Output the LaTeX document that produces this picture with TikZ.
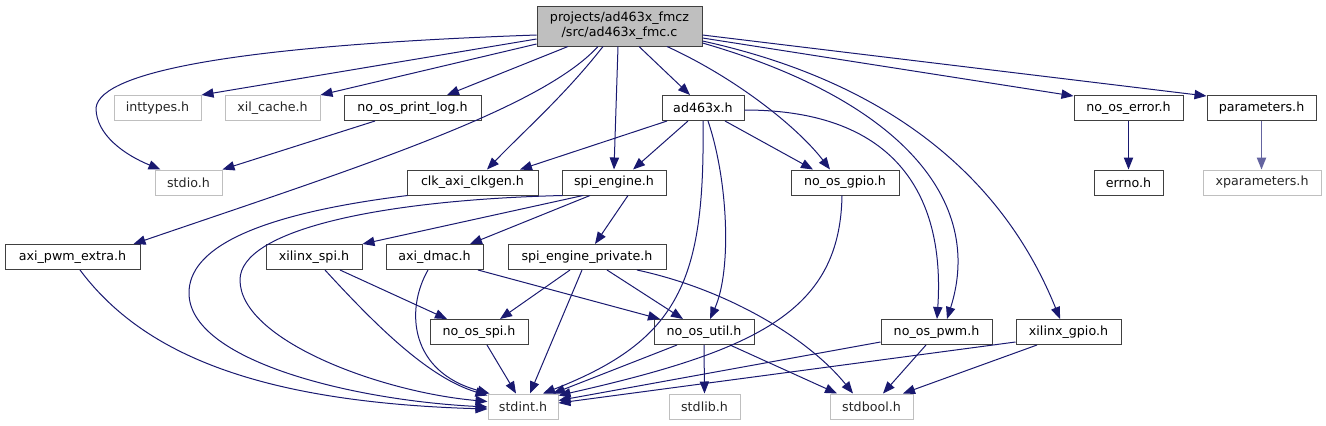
\documentclass[tikz,border=0pt]{standalone}
\usepackage{fontspec}
\setmainfont{DejaVu Sans}
\usetikzlibrary{arrows.meta,calc}
\definecolor{edge}{HTML}{191970}
\definecolor{edgelight}{HTML}{6464A0}
\definecolor{gbord}{HTML}{BFBFBF}
\definecolor{bbord}{HTML}{404040}
\definecolor{rootfill}{HTML}{BFBFBF}
\begin{document}
\begin{tikzpicture}[x=0.75pt,y=-0.75pt,
  nd/.style={draw=bbord, line width=0.75pt, inner sep=0pt, text=black,
    font=\fontsize{9.5pt}{11.25pt}\selectfont, minimum height=25*0.75pt},
  gr/.style={nd, draw=gbord, text=black!85},
  wd/.style={minimum width=#1*0.75pt},
  e/.style={draw=edge, line width=0.75pt, -{Triangle[length=9pt,width=7pt]}},
  el/.style={e, draw=edgelight, line width=1pt}]
\path[use as bounding box] (0,0) rectangle (1326,425);
% row 0
\node[nd, fill=rootfill, wd=165, minimum height=40*0.75pt, align=center] (root) at (619.5,26) {projects/ad463x\_fmcz\\/src/ad463x\_fmc.c};
% row 1
\node[gr, wd=87]  (inttypes) at (157.5,108) {inttypes.h};
\node[gr, wd=95]  (xilc)     at (272.5,108) {xil\_cache.h};
\node[nd, wd=137] (plog)     at (412.5,108) {no\_os\_print\_log.h};
\node[nd, wd=82]  (ad)       at (703,108)   {ad463x.h};
\node[nd, wd=109] (noerr)    at (1128.5,108) {no\_os\_error.h};
\node[nd, wd=109] (params)   at (1261.5,108) {parameters.h};
% row 2
\node[gr, wd=67]  (stdio)    at (188.5,182.5) {stdio.h};
\node[nd, wd=131] (clk)      at (472.5,182.5) {clk\_axi\_clkgen.h};
\node[nd, wd=104] (spieng)   at (614,182.5)   {spi\_engine.h};
\node[nd, wd=108] (gpio)     at (845,182.5)   {no\_os\_gpio.h};
\node[nd, wd=69]  (errno)    at (1128.5,182.5) {errno.h};
\node[gr, wd=118] (xparams)  at (1262,182.5)  {xparameters.h};
% row 3
\node[nd, wd=135] (pwmx)     at (72.5,257)  {axi\_pwm\_extra.h};
\node[nd, wd=96]  (xspi)     at (314,257)   {xilinx\_spi.h};
\node[nd, wd=97]  (dmac)     at (434.5,257) {axi\_dmac.h};
\node[nd, wd=158] (sepriv)   at (587,257)   {spi\_engine\_private.h};
% row 4
\node[nd, wd=98]  (nospi)    at (479,332)    {no\_os\_spi.h};
\node[nd, wd=100] (util)     at (704,332)    {no\_os\_util.h};
\node[nd, wd=111] (pwm)      at (936.5,332)  {no\_os\_pwm.h};
\node[nd, wd=105] (xgpio)    at (1068.5,332) {xilinx\_gpio.h};
% row 5
\node[gr, wd=70]  (stdint)   at (523,406.5)   {stdint.h};
\node[gr, wd=71]  (stdlib)   at (704.5,406.5) {stdlib.h};
\node[gr, wd=83]  (stdbool)  at (871.5,406.5) {stdbool.h};

% edges from root
\draw[e] ($(root.west)+(0,9)$) .. controls (250,45) and (100,70) .. (96,108)
   .. controls (96,135) and (125,155) .. ($(stdio.north)+(-28,0)$);
\draw[e] ($(root.west)+(0,13)$) -- (inttypes.north east);
\draw[e] ($(root.west)+(0,18)$) -- (xilc.north east);
\draw[e] ($(root.south)+(-51.5,0)$) -- ($(plog.north)+(34.5,0)$);
\draw[e] ($(root.south)+(-21.5,0)$) .. controls (540,110) and (350,170) .. ($(pwmx.north east)+(-7,0)$);
\draw[e] ($(root.south)+(-16.5,0)$) .. controls (565,95) and (525,130) .. ($(clk.north)+(14.5,0)$);
\draw[e] ($(root.south)+(-1.5,0)$) -- (spieng.north);
\draw[e] ($(root.south)+(19.5,0)$) -- ($(ad.north)+(-13,0)$);
\draw[e] ($(root.south)+(47.5,0)$) .. controls (740,80) and (800,130) .. ($(gpio.north)+(-15,0)$);
\draw[e] ($(root.east)+(0,17)$) .. controls (900,100) and (985,200) .. ($(pwm.north)+(10.5,0)$);
\draw[e] ($(root.east)+(0,15)$) .. controls (880,80) and (1000,170) .. ($(xgpio.north)+(-8.5,0)$);
\draw[e] ($(root.east)+(0,12)$) -- ($(noerr.north west)+(0,1)$);
\draw[e] ($(root.east)+(0,9)$) -- ($(params.north west)+(0,1)$);

% edges from ad463x
\draw[e] ($(ad.south)+(-36,0)$) -- ($(clk.north)+(47.5,0)$);
\draw[e] ($(ad.south)+(-15,0)$) -- ($(spieng.north)+(19,0)$);
\draw[e] ($(ad.south)+(22,0)$) -- ($(gpio.north)+(-32,0)$);
\draw[e] ($(ad.east)+(0,2)$) .. controls (900,110) and (945,200) .. ($(pwm.north)+(0.5,0)$);
\draw[e] (ad.south) .. controls (705,280) and (680,340) .. ($(stdint.north)+(20,0)$);
\draw[e] ($(ad.south)+(5,0)$) .. controls (728,180) and (732,270) .. ($(util.north)+(6,0)$);

% others
\draw[e] ($(plog.south)+(-37.5,0)$) -- (stdio.north east);
\draw[e] (noerr.south) -- (errno.north);
\draw[el] (params.south) -- ($(xparams.north)+(-0.5,0)$);

\draw[e] ($(clk.south west)+(1,0)$) .. controls (250,215) and (189,250) .. (189,293)
   .. controls (189,360) and (350,400) .. ($(stdint.west)+(0,0.5)$);
\draw[e] ($(spieng.south west)+(1,0)$) .. controls (380,200) and (240,230) .. (240,280)
   .. controls (240,340) and (380,392) .. ($(stdint.west)+(0,-5)$);
\draw[e] ($(spieng.south)+(-31,0)$) -- (xspi.north east);
\draw[e] ($(spieng.south)+(-24,0)$) -- ($(dmac.north)+(35.5,0)$);
\draw[e] ($(spieng.south)+(14,0)$) -- ($(sepriv.north)+(8,0)$);

\draw[e] ($(pwmx.south)+(7.5,0)$) .. controls (140,350) and (250,402) .. ($(stdint.west)+(0,2.5)$);

\draw[e] ($(xspi.south)+(11,0)$) .. controls (380,330) and (430,378) .. ($(stdint.west)+(0,-11)$);
\draw[e] ($(xspi.south)+(26,0)$) -- ($(nospi.north)+(-32,0)$);

\draw[e] ($(dmac.south)+(-6.5,0)$) .. controls (405,310) and (410,372) .. ($(stdint.north west)+(2,0)$);
\draw[e] ($(dmac.south)+(43.5,0)$) -- ($(util.north)+(-44,0)$);

\draw[e] ($(sepriv.south)+(-17,0)$) -- ($(nospi.north)+(21,0)$);
\draw[e] ($(sepriv.south)+(-5,0)$) -- ($(stdint.north)+(7,0)$);
\draw[e] ($(sepriv.south)+(20,0)$) -- ($(util.north)+(-21,0)$);
\draw[e] ($(sepriv.south)+(50,0)$) .. controls (730,290) and (810,340) .. ($(stdbool.north)+(-18.5,0)$);

\draw[e] ($(nospi.south)+(8,0)$) -- ($(stdint.north)+(-7,0)$);

\draw[e] ($(util.south)+(-27,0)$) -- ($(stdint.north)+(30,0)$);
\draw[e] (util.south) -- (stdlib.north);
\draw[e] ($(util.south)+(26,0)$) -- ($(stdbool.north)+(-34.5,0)$);

\draw[e] ($(gpio.south)+(-3,0)$) .. controls (840,310) and (760,350) .. ($(stdint.north east)+(0,2)$);

\draw[e] ($(pwm.west)+(0,10)$) -- ($(stdint.east)+(0,-6)$);
\draw[e] ($(pwm.south)+(-10.5,0)$) -- ($(stdbool.north)+(11.5,0)$);
\draw[e] ($(xgpio.west)+(0,10)$) -- ($(stdint.east)+(0,-3.5)$);
\draw[e] ($(xgpio.south)+(-31.5,0)$) -- ($(stdbool.north)+(31.5,0)$);
\end{tikzpicture}
\end{document}
